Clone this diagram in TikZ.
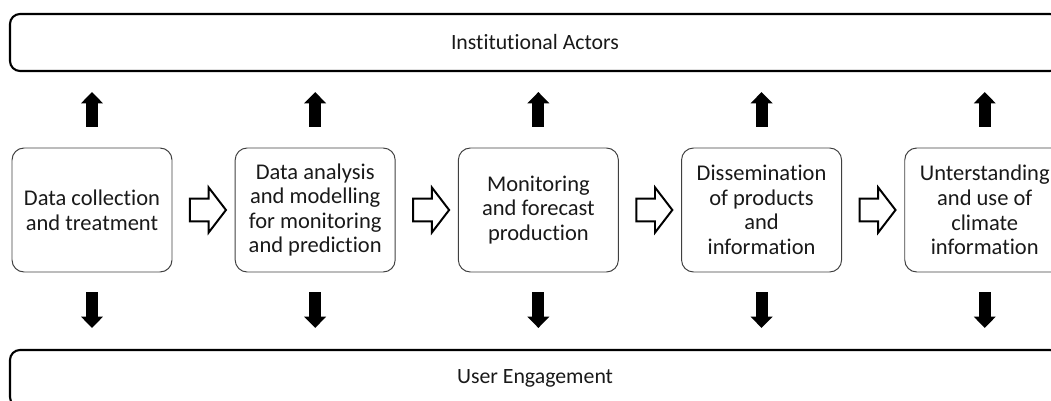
\documentclass[tikz,border=0pt]{standalone}
\usepackage{fontspec}
\setmainfont{Carlito}[Ligatures={NoCommon,NoRare}]
\usetikzlibrary{calc,chains,positioning,shapes.arrows,arrows.meta}
\tikzset{
  stage/.style={ % one step of the chain
    draw=black!75, rectangle, rounded corners=0.3cm,
    minimum width=4cm, minimum height=3.1cm,
    inner sep=2pt, align=center, text=black!90,
    font=\fontsize{16}{17.5}\selectfont, line width=0.7pt
  },
  bar/.style={ % long band on top and bottom
    draw=black, rectangle, rounded corners=0.25cm,
    minimum width=26.25cm, minimum height=1.425cm,
    line width=1.5pt, text=black!90,
    font=\fontsize{15.5}{17}\selectfont
  },
  hollow/.style={ % white block arrow between steps
    draw=black, fill=white, single arrow, line width=1.4pt,
    minimum height=0.9cm, inner xsep=0pt, inner ysep=0.26cm,
    single arrow head extend=0.28cm, single arrow tip angle=105
  },
  block/.style={ % black arrow towards the bands
    line width=0.3cm, black,
    -{Triangle[length=0.28cm, width=0.53cm]}
  }
}

\begin{document}
\begin{tikzpicture}[
      start chain=going right, node distance=1.555cm
    ]
    \useasboundingbox (0,0) rectangle (26.275,-10.025);

    \node[bar] (actors) at (13.375,-1.0625) {Institutional Actors};
    \node[bar] (users) at (13.375,-9.4625) {User Engagement};

    \node[stage,on chain] (s1) at (2.3,-5.25) {Data collection\\and treatment};
    \node[stage,on chain] (s2) {Data analysis\\and modelling\\for monitoring\\and prediction};
    \node[stage,on chain] (s3) {Monitoring\\and forecast\\production};
    \node[stage,on chain] (s4) {Dissemination\\of products\\and\\information};
    \node[stage,on chain] (s5) {Unterstanding\\and use of\\climate\\information};

    \node[hollow] (f1) at ($(s1.east)!0.5!(s2.west)$) {};
    \node[hollow] (f2) at ($(s2.east)!0.5!(s3.west)$) {};
    \node[hollow] (f3) at ($(s3.east)!0.5!(s4.west)$) {};
    \node[hollow] (f4) at ($(s4.east)!0.5!(s5.west)$) {};

    \foreach \s in {s1,s2,s3,s4,s5} {
      \draw[block, shorten <=0.525cm, shorten >=0.5cm] (\s.north) -- (\s.north |- actors.south);
      \draw[block, shorten <=0.5cm, shorten >=0.525cm] (\s.south) -- (\s.south |- users.north);
    }
  \end{tikzpicture}
\end{document}
